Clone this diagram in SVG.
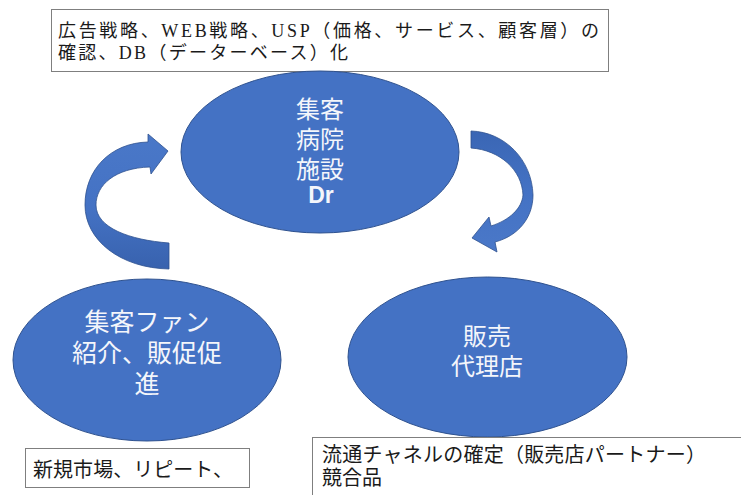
<svg xmlns="http://www.w3.org/2000/svg" width="741" height="495" viewBox="0 0 741 495">
  <defs>
    <linearGradient id="gL" x1="0" y1="0" x2="0" y2="1">
      <stop offset="0" stop-color="#4A78C8"/>
      <stop offset="0.55" stop-color="#4472C4"/>
      <stop offset="1" stop-color="#3862AE"/>
    </linearGradient>
    <linearGradient id="gR" x1="0" y1="0" x2="0" y2="1">
      <stop offset="0" stop-color="#3A66B4"/>
      <stop offset="0.5" stop-color="#4472C4"/>
      <stop offset="1" stop-color="#4A78C8"/>
    </linearGradient>
  </defs>
  <style>
    .ell { fill: #4472C4; stroke: #2F528F; stroke-width: 1; }
    .box { fill: #ffffff; stroke: #7F7F7F; stroke-width: 1; }
    .wt { fill: #F4F6FB; font-family: "Liberation Sans", "Noto Sans CJK JP", sans-serif; font-size: 24px; text-anchor: middle; }
    .dr { font-family: "Liberation Sans", Arial, sans-serif; font-size: 23px; font-weight: bold; }
    .serif { fill: #1A1A1A; font-family: "Liberation Serif", "Noto Sans CJK JP", serif; font-size: 18px; }
    .sans { fill: #1A1A1A; font-family: "Liberation Sans", "Noto Sans CJK JP", sans-serif; font-size: 20px; }
    .arr { stroke: #2F528F; stroke-width: 0.8; }
  </style>
  <rect width="741" height="495" fill="#ffffff"/>

  <g id="connectors">
    <path class="arr" fill="url(#gL)" d="M 169,243 C 130,240 96,228 96,205 C 96,185 115,168 150,167 L 151,174 L 168,151 L 148,134 L 148,142 C 110,143 85,170 85,205 C 85,240 120,268 169,269 Z"/>
    <path class="arr" fill="url(#gR)" d="M 471,131 C 505,132 532,160 533,195 C 533,218 518,236 495,242 L 497,252 L 472,238 L 489,217 L 491,226 C 510,220 522,208 523,195 C 522,170 500,150 471,148 Z"/>
  </g>

  <g id="note-top">
    <rect class="box" x="51.5" y="9.5" width="557" height="62"/>
    <text class="serif"><tspan x="58" y="37" textLength="541" lengthAdjust="spacing">広告戦略、WEB戦略、USP（価格、サービス、顧客層）の</tspan><tspan x="58" y="59" textLength="290" lengthAdjust="spacing">確認、DB（データーベース）化</tspan></text>
  </g>

  <g id="node-top">
    <ellipse class="ell" cx="320" cy="152" rx="139" ry="81"/>
    <text class="wt"><tspan x="320" y="118">集客</tspan><tspan x="320" y="148">病院</tspan><tspan x="320" y="178">施設</tspan><tspan class="dr" x="321" y="203">Dr</tspan></text>
  </g>

  <g id="node-left">
    <ellipse class="ell" cx="147" cy="360" rx="134" ry="81"/>
    <text class="wt" style="font-size:25px"><tspan x="147" y="331">集客ファン</tspan><tspan x="147" y="362">紹介、販促促</tspan><tspan x="147" y="393">進</tspan></text>
  </g>

  <g id="node-right">
    <ellipse class="ell" cx="487.5" cy="357" rx="139.5" ry="80"/>
    <text class="wt"><tspan x="487" y="345">販売</tspan><tspan x="487" y="375">代理店</tspan></text>
  </g>

  <g id="note-left">
    <rect class="box" x="25.5" y="448.5" width="224" height="39"/>
    <text class="sans" x="33" y="477" textLength="200" lengthAdjust="spacing">新規市場、リピート、</text>
  </g>

  <g id="note-right">
    <rect class="box" x="312.5" y="437.5" width="440" height="70"/>
    <text class="sans"><tspan x="322" y="462" textLength="384" lengthAdjust="spacing">流通チャネルの確定（販売店パートナー）</tspan><tspan x="322" y="485">競合品</tspan></text>
  </g>
</svg>
